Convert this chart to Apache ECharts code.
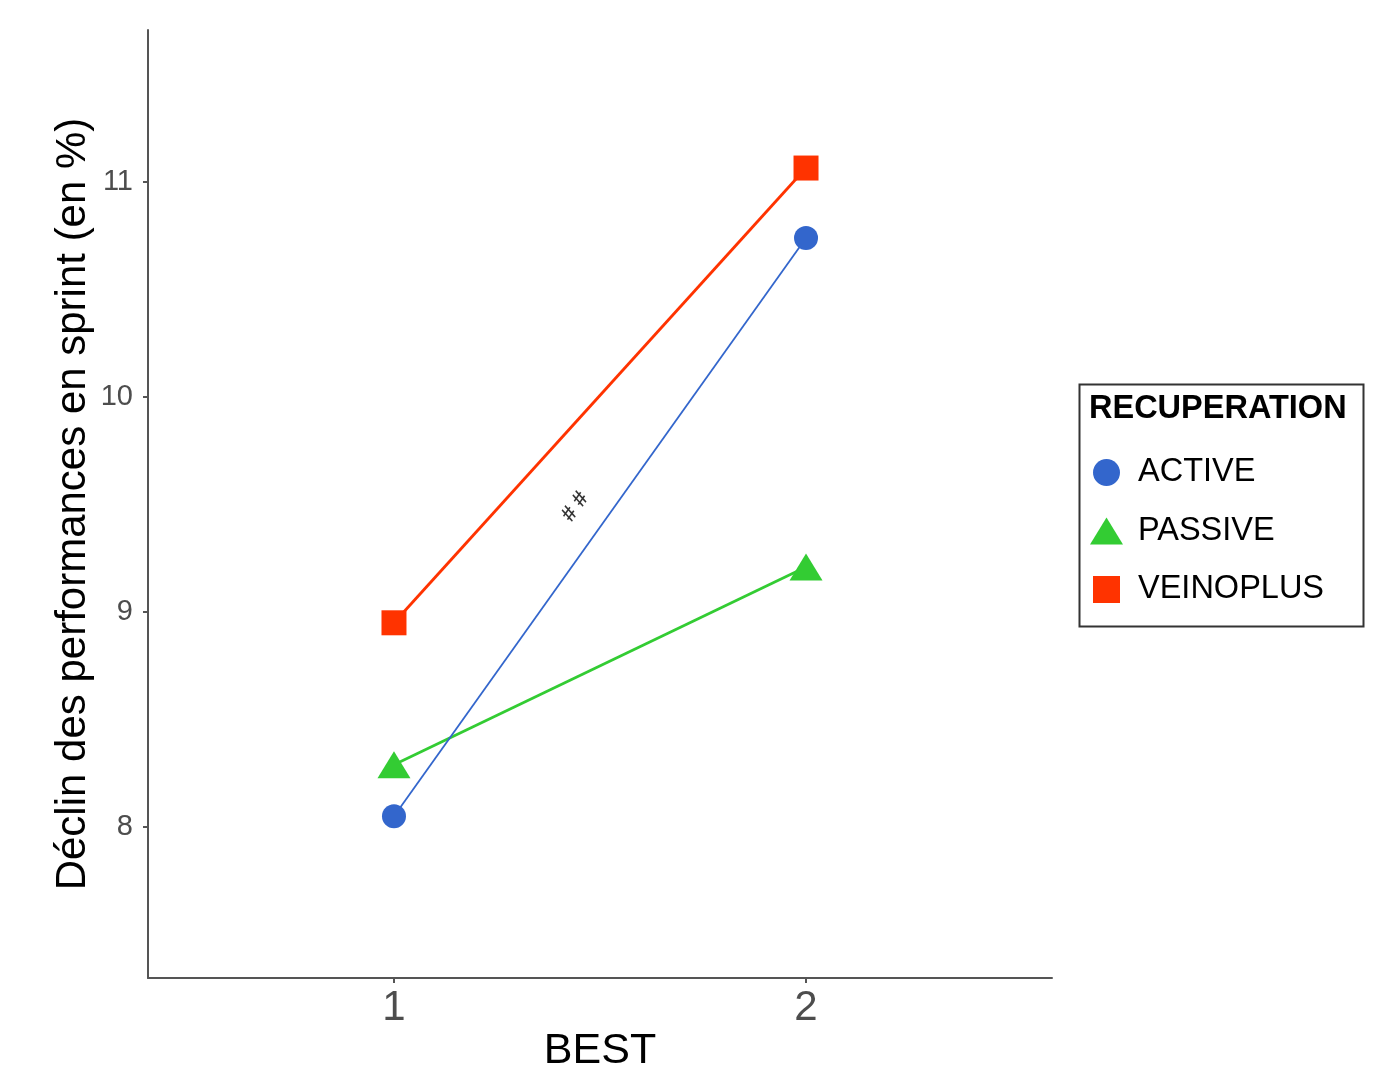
<!DOCTYPE html>
<html>
<head>
<meta charset="utf-8">
<script src="https://cdn.jsdelivr.net/npm/echarts@6/dist/echarts.min.js"></script>
<style>
  html, body { margin: 0; padding: 0; background: #ffffff; }
  #chart { width: 1399px; height: 1092px; }
</style>
</head>
<body>
<div id="chart"></div>
<script>
// Sprint performance decline (%) by BEST level and recovery mode
const bestLevels = [1, 2];
const yTicks = [8, 9, 10, 11];
const groups = ['ACTIVE', 'PASSIVE', 'VEINOPLUS'];
const activeValues = [8.05, 10.74];
const passiveValues = [8.29, 9.21];
const veinoplusValues = [8.95, 11.065];
const annotationText = '# #';
const annotationPos = [1.44, 9.49];

const colors = { ACTIVE: '#3366CC', PASSIVE: '#33CC33', VEINOPLUS: '#FF3300' };
const triPath = 'path://M0,27L16.5,0L33,27Z';
const squarePath = 'path://M0,0L24,0L24,24L0,24Z';

function pairs(vals) { return bestLevels.map((b, i) => [b, vals[i]]); }

const chart = echarts.init(document.getElementById('chart'), null, { renderer: 'canvas' });

const option = {
  backgroundColor: '#ffffff',
  animation: false,
  textStyle: { fontFamily: 'Liberation Sans, Arial, sans-serif' },
  grid: { left: 148, right: 347, top: 30, bottom: 114, containLabel: false },
  xAxis: {
    type: 'value',
    min: 0.403,
    max: 2.597,
    name: 'BEST',
    nameLocation: 'middle',
    nameGap: 52,
    nameMoveOverlap: false,
    nameTextStyle: { fontSize: 43, color: '#000000' },
    splitLine: { show: false },
    axisLine: { lineStyle: { color: '#555555', width: 2 } },
    axisTick: { customValues: bestLevels, length: 5, lineStyle: { color: '#555555', width: 2 } },
    axisLabel: { customValues: bestLevels, fontSize: 42, color: '#4d4d4d', margin: 9 }
  },
  yAxis: {
    type: 'value',
    min: 7.298,
    max: 11.707,
    name: 'Déclin des performances en sprint (en %)',
    nameLocation: 'middle',
    nameGap: 54,
    nameMoveOverlap: false,
    nameTextStyle: { fontSize: 42, color: '#000000' },
    splitLine: { show: false },
    axisLine: { show: true, lineStyle: { color: '#555555', width: 2 } },
    axisTick: { show: true, customValues: yTicks, length: 5, lineStyle: { color: '#555555', width: 2 } },
    axisLabel: { customValues: yTicks, fontSize: 29, color: '#4d4d4d', margin: 15 }
  },
  legend: {
    orient: 'vertical',
    left: 1090,
    top: 456,
    padding: 0,
    itemWidth: 33,
    itemHeight: 27,
    itemGap: 25.5,
    symbolKeepAspect: true,
    textStyle: { fontSize: 32.5, color: '#000000', padding: [0, 0, 0, 10] },
    data: [
      { name: 'ACTIVE', icon: 'circle', itemStyle: { color: colors.ACTIVE } },
      { name: 'PASSIVE', icon: triPath, itemStyle: { color: colors.PASSIVE } },
      { name: 'VEINOPLUS', icon: squarePath, itemStyle: { color: colors.VEINOPLUS } }
    ]
  },
  graphic: [
    {
      type: 'rect',
      left: 1077, top: 382,
      shape: { width: 284, height: 242 },
      style: { fill: 'none', stroke: '#333333', lineWidth: 2 }
    },
    {
      type: 'text',
      left: 1089, top: 393,
      style: { text: 'RECUPERATION', font: 'bold 32.5px Liberation Sans, Arial, sans-serif', fill: '#000000' }
    }
  ],
  series: [
    {
      name: 'ACTIVE', type: 'line', data: pairs(activeValues),
      symbol: 'circle', symbolSize: 24,
      lineStyle: { color: colors.ACTIVE, width: 1.8 },
      itemStyle: { color: colors.ACTIVE }, z: 3
    },
    {
      name: 'PASSIVE', type: 'line', data: pairs(passiveValues),
      symbol: triPath, symbolSize: [33, 27], symbolKeepAspect: false,
      lineStyle: { color: colors.PASSIVE, width: 2.8 },
      itemStyle: { color: colors.PASSIVE }, z: 2
    },
    {
      name: 'VEINOPLUS', type: 'line', data: pairs(veinoplusValues),
      symbol: squarePath, symbolSize: 25,
      lineStyle: { color: colors.VEINOPLUS, width: 2.8 },
      itemStyle: { color: colors.VEINOPLUS }, z: 2
    },
    {
      name: 'annotation', type: 'scatter', data: [annotationPos],
      symbolSize: 0, silent: true,
      label: {
        show: true, position: 'inside', formatter: annotationText,
        rotate: 54.6, fontSize: 22, fontWeight: 'bold', color: '#000000'
      }
    }
  ]
};

chart.setOption(option);
</script>
</body>
</html>
